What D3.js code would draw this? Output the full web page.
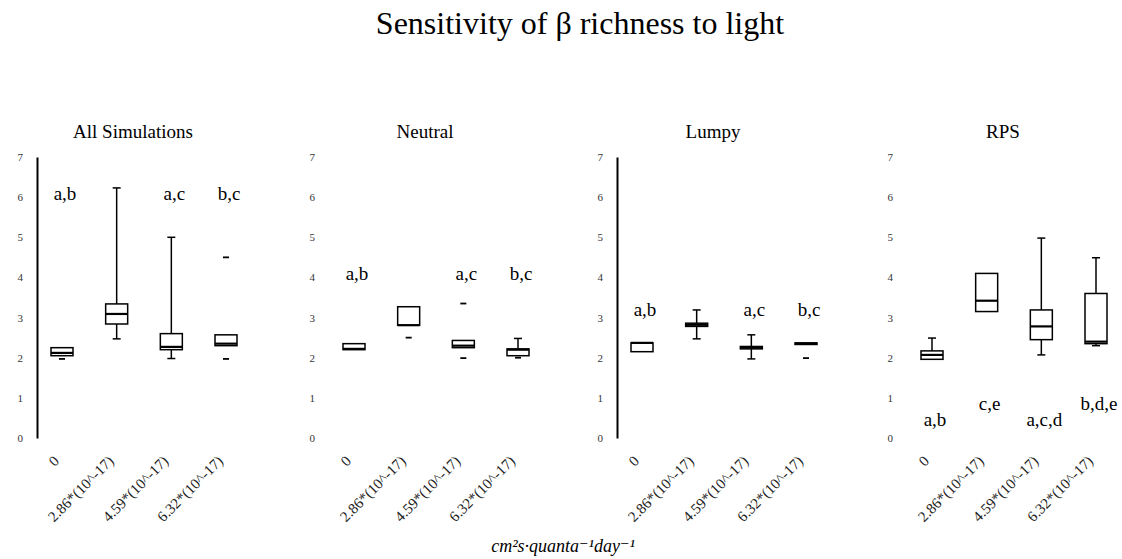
<!DOCTYPE html>
<html>
<head>
<meta charset="utf-8">
<script src="https://cdn.jsdelivr.net/npm/d3@7/dist/d3.min.js"></script>
<style>
  html, body { margin: 0; padding: 0; background: #fff; }
  svg { display: block; font-family: "Liberation Serif", "DejaVu Serif", serif; }
</style>
</head>
<body>
<svg id="chart" width="1122" height="559"></svg>
<script>
// Light levels on the x axis (cm^2 s quanta^-1 day^-1)
const lightLevels = ["0", "2.86*(10^-17)", "4.59*(10^-17)", "6.32*(10^-17)"];
const panelTitles = ["All Simulations", "Neutral", "Lumpy", "RPS"];
const yTicks = [0, 1, 2, 3, 4, 5, 6, 7];

// Box-and-whisker summaries of beta richness, one row per panel, one entry per light level
const whiskerLow = [
  [2.05, 2.47, 1.98, 2.30],
  [2.20, 2.81, 2.25, 2.05],
  [2.15, 2.47, 1.97, 2.33],
  [1.96, 3.15, 2.07, 2.30]
];
const quartile1 = [
  [2.05, 2.84, 2.20, 2.30],
  [2.20, 2.81, 2.25, 2.05],
  [2.15, 2.78, 2.22, 2.33],
  [1.96, 3.15, 2.45, 2.35]
];
const medians = [
  [2.12, 3.09, 2.27, 2.35],
  [2.22, 2.81, 2.30, 2.20],
  [2.37, 2.82, 2.25, 2.35],
  [2.07, 3.42, 2.78, 2.40]
];
const quartile3 = [
  [2.25, 3.34, 2.60, 2.57],
  [2.35, 3.27, 2.43, 2.22],
  [2.37, 2.86, 2.28, 2.37],
  [2.17, 4.10, 3.19, 3.60]
];
const whiskerHigh = [
  [2.25, 6.23, 5.00, 2.57],
  [2.35, 3.27, 2.43, 2.48],
  [2.37, 3.19, 2.57, 2.37],
  [2.49, 4.10, 4.98, 4.49]
];
const outliers = [
  [[1.97], [], [], [4.50, 1.97]],
  [[], [2.50], [3.35, 1.99], [2.00]],
  [[], [], [], [1.99]],
  [[], [], [], []]
];

// Significance groupings and the height at which they are printed
const groupLetters = [
  ["a,b", "", "a,c", "b,c"],
  ["a,b", "", "a,c", "b,c"],
  ["a,b", "", "a,c", "b,c"],
  ["a,b", "c,e", "a,c,d", "b,d,e"]
];
const letterHeights = [
  [6.1, 6.1, 6.1, 6.1],
  [4.1, 4.1, 4.1, 4.1],
  [3.2, 3.2, 3.2, 3.2],
  [0.47, 0.87, 0.47, 0.87]
];

// Layout
const panelLeft = [0, 292, 580, 870];
const showAxisLine = [true, false, true, false];
const boxHalf = 11;
const capHalf = 4;

const svg = d3.select("#chart");

const x = d3.scalePoint().domain(lightLevels).range([62, 226]);
const y = d3.scaleLinear().domain([0, 7]).range([438, 157]);

svg.append("text")
  .attr("x", 580).attr("y", 34)
  .attr("text-anchor", "middle")
  .attr("font-size", 32)
  .text("Sensitivity of \u03B2 richness to light");

panelTitles.forEach((title, p) => {
  const g = svg.append("g").attr("transform", `translate(${panelLeft[p]},0)`);

  g.append("text")
    .attr("x", 133).attr("y", 138)
    .attr("text-anchor", "middle")
    .attr("font-size", 19)
    .text(title);

  // y axis
  const yAxis = g.append("g")
    .attr("transform", "translate(37,0)")
    .call(d3.axisLeft(y).tickValues(yTicks).tickFormat(d3.format("d"))
      .tickSize(0).tickPadding(14).tickSizeOuter(0));
  yAxis.selectAll("text")
    .attr("font-family", "Liberation Serif, serif")
    .attr("font-size", 11)
    .attr("fill", "#333");
  if (showAxisLine[p]) {
    yAxis.select(".domain").attr("stroke", "#000").attr("stroke-width", 2);
  } else {
    yAxis.select(".domain").remove();
  }

  // x tick labels
  g.selectAll(".xlab")
    .data(lightLevels)
    .join("text")
    .attr("class", "xlab")
    .attr("transform", d => `translate(${x(d) - 2},${462}) rotate(-45)`)
    .attr("text-anchor", "end")
    .attr("font-size", 15)
    .attr("fill", "#222")
    .text(d => d);

  // boxes
  lightLevels.forEach((lvl, i) => {
    const cx = x(lvl);
    const bg = g.append("g");
    const line = (x1, y1, x2, y2, w) => bg.append("line")
      .attr("x1", x1).attr("y1", y1).attr("x2", x2).attr("y2", y2)
      .attr("stroke", "#000").attr("stroke-width", w);

    const lo = whiskerLow[p][i], a = quartile1[p][i], m = medians[p][i],
          b = quartile3[p][i], hi = whiskerHigh[p][i];

    if (hi > b) {
      line(cx, y(b), cx, y(hi), 1.5);
      line(cx - capHalf, y(hi), cx + capHalf, y(hi), 1.5);
    }
    if (lo < a) {
      line(cx, y(a), cx, y(lo), 1.5);
      line(cx - capHalf, y(lo), cx + capHalf, y(lo), 1.5);
    }
    bg.append("rect")
      .attr("x", cx - boxHalf).attr("width", boxHalf * 2)
      .attr("y", y(b)).attr("height", Math.max(0, y(a) - y(b)))
      .attr("fill", "none").attr("stroke", "#000").attr("stroke-width", 1.5);
    line(cx - boxHalf, y(m), cx + boxHalf, y(m), 2.2);

    outliers[p][i].forEach(v => line(cx - 3, y(v), cx + 3, y(v), 1.8));

    const lab = groupLetters[p][i];
    if (lab) {
      bg.append("text")
        .attr("x", cx + 3).attr("y", y(letterHeights[p][i]))
        .attr("dy", "0.35em")
        .attr("text-anchor", "middle")
        .attr("font-size", 19)
        .text(lab);
    }
  });
});

svg.append("text")
  .attr("x", 563).attr("y", 552)
  .attr("text-anchor", "middle")
  .attr("font-size", 18)
  .attr("font-style", "italic")
  .text("cm\u00B2s\u00B7quanta\u207B\u00B9day\u207B\u00B9");
</script>
</body>
</html>
